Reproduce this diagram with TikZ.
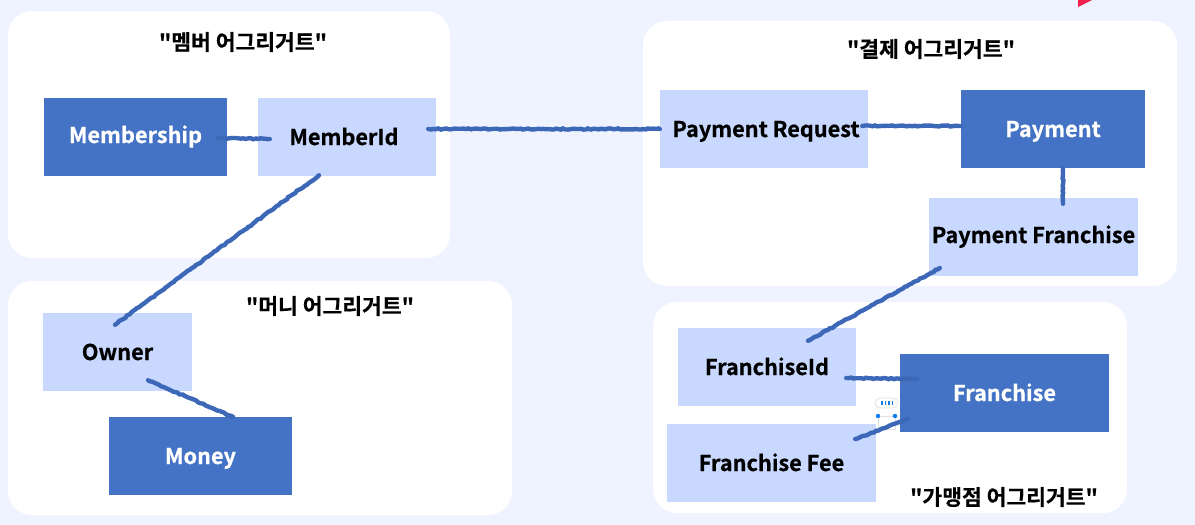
\documentclass[tikz,border=0pt]{standalone}
\usepackage{fontspec}
\setmainfont{Noto Sans CJK KR}[BoldFont={Noto Sans CJK KR Bold},BoldFeatures={FakeBold=0.6}]
\newfontfamily\titlefont{Noto Sans CJK KR Bold}[FakeBold=0.4]
\usetikzlibrary{decorations.pathmorphing}
\definecolor{bgc}{HTML}{EFF3FF}
\definecolor{darkb}{HTML}{4472C4}
\definecolor{lightb}{HTML}{C9D8FE}
\definecolor{linec}{HTML}{3D68B8}
\definecolor{handle}{HTML}{0A7CE6}
\definecolor{redm}{HTML}{F0224B}
\tikzset{
  panel/.style={fill=white,draw=none,rounded corners=24pt},
  darkbox/.style={fill=darkb,draw=none,text=white,font=\fontsize{21.7}{26}\selectfont\bfseries,inner sep=0pt,text height=20pt,text depth=4pt},
  lightbox/.style={fill=lightb,draw=none,text=black,font=\fontsize{21.7}{26}\selectfont\bfseries,inner sep=0pt,text height=20pt,text depth=4pt},
  raised/.style={text height=16pt,text depth=4pt},
  titletext/.style={text=black,font=\titlefont\fontsize{21.5}{26}\selectfont,inner sep=0pt},
  conn/.style={draw=linec,line width=4.4pt,line cap=round,decorate,decoration={random steps,segment length=2.5pt,amplitude=0.6pt}},
}
\begin{document}
\begin{tikzpicture}[x=1pt,y=-1pt]
\useasboundingbox (0,0) rectangle (1195,525);
\fill[bgc] (0,0) rectangle (1195,525);
\fill[redm] (1078,0) -- (1078,7) -- (1092,0) -- cycle;
% panels
\fill[panel] (8,11) rectangle (450,258);
\fill[panel] (8,281) rectangle (512,515);
\fill[panel] (643,21) rectangle (1177,286);
\fill[panel] (653,302) rectangle (1127,513);
% titles
\node[titletext] (t1) at (243,42) {"멤버 어그리거트"};
\node[titletext] (t2) at (330,306) {"머니 어그리거트"};
\node[titletext] (t3) at (931,49) {"결제 어그리거트"};
\node[titletext] (t4) at (1004,497) {"가맹점 어그리거트"};
% boxes
\node[darkbox,raised,minimum width=183pt,minimum height=78pt] (membership) at (135.5,137) {Membership};
\node[lightbox,minimum width=178pt,minimum height=78pt] (memberid) at (347,137) {\hspace*{-6pt}MemberId};
\node[lightbox,minimum width=208pt,minimum height=78pt] (prequest) at (764,129) {\hspace*{4pt}Payment Request};
\node[darkbox,minimum width=184pt,minimum height=78pt] (payment) at (1053,129) {Payment};
\node[lightbox,raised,minimum width=209pt,minimum height=78pt] (pfranchise) at (1033.5,237) {Payment Franchise};
\node[lightbox,minimum width=149pt,minimum height=78pt] (owner) at (117.5,352) {Owner};
\node[darkbox,minimum width=183pt,minimum height=78pt] (money) at (200.5,456) {Money};
\node[lightbox,minimum width=178pt,minimum height=78pt] (franchiseid) at (767,367) {FranchiseId};
\node[darkbox,minimum width=209pt,minimum height=78pt] (franchise) at (1004.5,393) {Franchise};
\node[lightbox,minimum width=209pt,minimum height=78pt] (fee) at (771.5,463) {Franchise Fee};
% editor handle
\draw[black!12,line width=0.7pt,fill=white] (878,416) rectangle (895,429);
\draw[black!12,line width=0.7pt,fill=white,rounded corners=5pt] (875,398) rectangle (898,408);
\foreach \x in {881,884.5,888,891.5} \fill[handle] (\x,401) rectangle ++(1.8,4);
\fill[handle] (878,416) circle (2.2pt) (895,416) circle (2.2pt);
% connectors
\draw[conn] ([shift={(-9,1)}]membership.east) -- ([shift={(12,2)}]memberid.west);
\draw[conn] ([shift={(-8,-8)}]memberid.east) -- (prequest.west);
\draw[conn] ([shift={(-6,-3)}]prequest.east) -- ([shift={(0,-3)}]payment.west);
\draw[conn] ([shift={(10,0)}]payment.south) -- ([shift={(29.5,6)}]pfranchise.north);
\draw[conn] ([shift={(-28,-1)}]memberid.south) -- ([shift={(-2.5,12)}]owner.north);
\draw[conn] ([shift={(30.5,-11)}]owner.south) -- ([shift={(32.5,0)}]money.north);
\draw[conn] ([shift={(11,31)}]pfranchise.west) -- ([shift={(41,13)}]franchiseid.north);
\draw[conn] ([shift={(-10,11)}]franchiseid.east) -- ([shift={(17,-14)}]franchise.west);
\draw[conn] ([shift={(-21,-24)}]fee.east) -- ([shift={(8,26)}]franchise.west);
\end{tikzpicture}
\end{document}
